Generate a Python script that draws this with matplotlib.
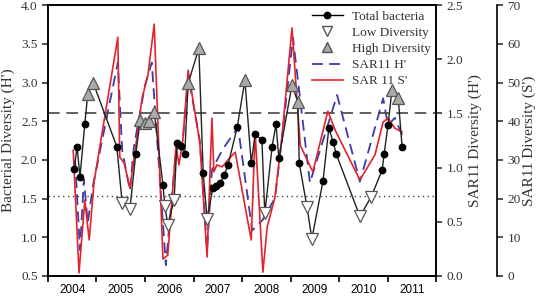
import matplotlib
matplotlib.use("Agg")
import matplotlib.pyplot as plt
from matplotlib.lines import Line2D
import numpy as np

# total bacteria diversity (H'), with the kind of marker each sample gets
bact_x = [2004.04, 2004.10, 2004.16, 2004.26, 2004.32, 2004.43, 2004.92, 2005.03, 2005.19, 2005.31,
          2005.40, 2005.50, 2005.58, 2005.69, 2005.87, 2005.91, 2005.97, 2006.10, 2006.16, 2006.24,
          2006.32, 2006.39, 2006.61, 2006.70, 2006.78, 2006.90, 2006.96, 2007.05, 2007.13, 2007.21,
          2007.40, 2007.56, 2007.69, 2007.77, 2007.91, 2007.97, 2008.12, 2008.20, 2008.26, 2008.53,
          2008.65, 2008.68, 2008.84, 2008.94, 2009.17, 2009.29, 2009.38, 2009.44, 2009.93, 2010.16,
          2010.39, 2010.43, 2010.51, 2010.59, 2010.72, 2010.80]
bact_h = [1.88, 2.17, 1.78, 2.47, 2.85, 3.00, 2.17, 1.44, 1.37, 2.08,
          2.51, 2.48, 2.50, 2.62, 1.68, 1.40, 1.16, 1.48, 2.22, 2.18,
          2.08, 2.99, 3.44, 1.83, 1.24, 1.64, 1.66, 1.70, 1.80, 1.93,
          2.42, 3.03, 1.96, 2.33, 2.26, 1.31, 2.17, 2.46, 2.02, 2.97,
          2.75, 1.96, 1.39, 0.98, 1.73, 2.41, 2.23, 2.08, 1.27, 1.52,
          1.87, 2.08, 2.45, 2.90, 2.80, 2.17]
bact_kind = ['n', 'n', 'n', 'n', 'h', 'h', 'n', 'l', 'l', 'n',
             'h', 'h', 'h', 'h', 'n', 'l', 'l', 'l', 'n', 'n',
             'n', 'h', 'h', 'n', 'l', 'n', 'n', 'n', 'n', 'n',
             'n', 'h', 'n', 'n', 'n', 'l', 'n', 'n', 'n', 'h',
             'h', 'n', 'l', 'l', 'n', 'n', 'n', 'n', 'l', 'l',
             'n', 'n', 'n', 'h', 'h', 'n']

# SAR11 Shannon diversity (H')
sar_h_x = [2004.06, 2004.16, 2004.24, 2004.32, 2004.43, 2004.94, 2005.03, 2005.19, 2005.27, 2005.50,
           2005.64, 2005.93, 2006.14, 2006.28, 2006.39, 2006.63, 2006.78, 2006.88, 2007.09, 2007.21,
           2007.42, 2007.71, 2007.93, 2008.18, 2008.32, 2008.55, 2008.90, 2009.46, 2009.93, 2010.41,
           2010.51, 2010.65, 2010.80]
sar_h = [1.07, 0.24, 0.89, 0.49, 0.84, 1.97, 1.16, 0.79, 1.19, 1.76,
         1.97, 0.10, 1.16, 1.25, 1.85, 1.25, 0.24, 0.98, 1.16, 1.24,
         1.37, 0.42, 0.52, 0.72, 1.25, 2.20, 0.86, 1.67, 0.87, 1.64,
         1.39, 1.46, 1.30]

# SAR11 richness (S')
sar_s_x = [2004.02, 2004.14, 2004.26, 2004.35, 2004.45, 2004.94, 2004.98, 2005.07, 2005.19, 2005.29,
           2005.44, 2005.56, 2005.69, 2005.87, 2005.97, 2006.14, 2006.20, 2006.28, 2006.39, 2006.63,
           2006.78, 2006.88, 2006.92, 2006.98, 2007.09, 2007.21, 2007.36, 2007.69, 2007.77, 2007.93,
           2008.02, 2008.18, 2008.32, 2008.53, 2008.70, 2008.96, 2009.27, 2009.42, 2009.93, 2010.24,
           2010.41, 2010.51, 2010.65, 2010.80]
sar_s = [32.5, 0.8, 19.6, 9.3, 24.3, 61.7, 30.7, 29.2, 22.7, 31.8,
         46.0, 51.9, 65.1, 4.4, 5.4, 33.8, 28.7, 35.1, 53.2, 34.4,
         4.9, 40.8, 26.9, 28.7, 28.2, 30.0, 32.0, 9.3, 37.2, 1.0,
         12.7, 20.4, 35.6, 64.1, 33.8, 26.9, 42.6, 37.7, 24.8, 31.3,
         39.8, 40.8, 38.2, 37.2]

years = [2004, 2005, 2006, 2007, 2008, 2009, 2010, 2011]
high_line = 1.5   # SAR11 H'
low_line = 1.53   # bacterial H'

serif = ['Liberation Serif', 'DejaVu Serif']
sans = ['Liberation Sans', 'DejaVu Sans']
plt.rcParams['font.family'] = serif
plt.rcParams['axes.linewidth'] = 1.2

fig = plt.figure(figsize=(5.39, 2.96), dpi=100)
ax = fig.add_axes([0.089, 0.0676, 0.72, 0.915])
ax2 = ax.twinx()
ax3 = ax.twinx()
ax3.spines['right'].set_position(('axes', 1.157))
for s in ['top', 'left', 'bottom']:
    ax3.spines[s].set_visible(False)

ax.set_zorder(3)
ax3.set_zorder(2)
ax2.set_zorder(1)
for a in (ax, ax2, ax3):
    a.patch.set_visible(False)

red = '#e3232c'
blue = '#3c3ca8'

ax2.plot(sar_h_x, sar_h, color=blue, lw=1.3, ls=(0, (6, 3.5)))
ax2.axhline(high_line, color='#444444', lw=1.2, ls=(0, (7, 4)))
ax3.plot(sar_s_x, sar_s, color=red, lw=1.2)

ax.axhline(low_line, color='#444444', lw=1.0, ls=(0, (1, 2.5)))
ax.plot(bact_x, bact_h, color='#222222', lw=1.0)
bx = np.array(bact_x)
bh = np.array(bact_h)
kind = np.array(bact_kind)
ax.plot(bx[kind == 'n'], bh[kind == 'n'], 'o', color='black', ms=4.6, ls='none')
ax.plot(bx[kind == 'l'], bh[kind == 'l'], 'v', mfc='white', mec='#555555', mew=0.9, ms=8, ls='none')
ax.plot(bx[kind == 'h'], bh[kind == 'h'], '^', mfc='#aaaaaa', mec='#555555', mew=0.9, ms=8, ls='none')

ax.set_xlim(2003.5, 2011.5)
ax.set_ylim(0.5, 4.0)
ax2.set_ylim(0.0, 2.5)
ax3.set_ylim(0, 70)

ax.set_xticks(np.arange(2003.5, 2011.6, 1.0))
ax.set_xticklabels([])
ax.set_xticks(years, minor=True)
ax.set_xticklabels([str(y) for y in years], minor=True, family=sans, fontsize=8.5)
ax.tick_params(axis='x', which='major', direction='out', length=4, width=1.2)
ax.tick_params(axis='x', which='minor', length=0, pad=6)

ax.set_yticks(np.arange(0.5, 4.01, 0.5))
ax.set_yticklabels(['%.1f' % v for v in np.arange(0.5, 4.01, 0.5)])
ax.tick_params(axis='y', direction='out', length=4, width=1.2, labelsize=9.5, colors='#333333')
ax2.set_yticks(np.arange(0, 2.51, 0.5))
ax2.set_yticklabels(['%.1f' % v for v in np.arange(0, 2.51, 0.5)])
ax2.tick_params(axis='y', direction='out', length=4, width=1.2, labelsize=9.5, colors='#333333')
ax3.set_yticks(np.arange(0, 71, 10))
ax3.tick_params(axis='y', direction='out', length=4, width=1.2, labelsize=9.5, colors='#333333')

ax.set_ylabel("Bacterial Diversity (H')", fontsize=11, color='#333333', labelpad=4)
ax2.set_ylabel("SAR11 Diversity (H')", fontsize=11, color='#333333', labelpad=4)
ax3.set_ylabel("SAR11 Diversity (S')", fontsize=11, color='#333333', labelpad=1)

handles = [
    Line2D([], [], color='black', marker='o', ms=4.6, lw=1.0),
    Line2D([], [], color='none', marker='v', mfc='white', mec='#555555', ms=7),
    Line2D([], [], color='none', marker='^', mfc='#aaaaaa', mec='#555555', ms=7),
    Line2D([], [], color=blue, lw=1.3, ls=(0, (6, 3.5))),
    Line2D([], [], color=red, lw=1.2),
]
labels = ['Total bacteria', 'Low Diversity', 'High Diversity', "SAR11 H'", "SAR 11 S'"]
leg = ax.legend(handles, labels, loc='upper right', frameon=False, fontsize=9.5,
                handlelength=2.3, handletextpad=0.7, labelspacing=0.3,
                borderaxespad=0.2, borderpad=0.2)
for t in leg.get_texts():
    t.set_color('#333333')

fig.savefig('out.png', dpi=100)
